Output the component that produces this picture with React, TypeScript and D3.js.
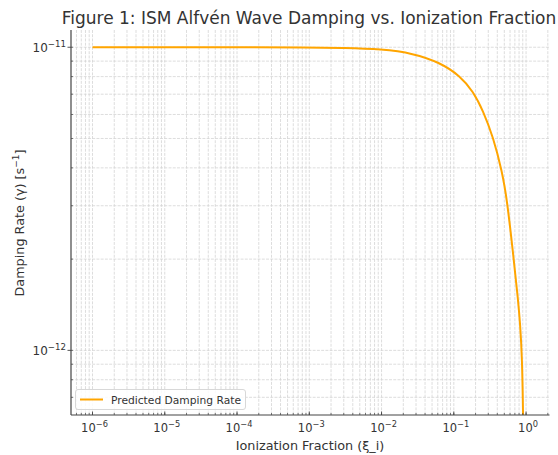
import React from 'react';
import * as d3 from 'd3';

// values
const ionizationFraction = [1e-6, 1e-5, 1e-4, 1e-3, 3e-3, 0.01, 0.0274, 0.0646, 0.122, 0.185, 0.254, 0.35, 0.466, 0.546, 0.661, 0.775, 0.826, 0.881, 0.909, 0.93];
const dampingRate = [1e-11, 1e-11, 1e-11, 9.98e-12, 9.95e-12, 9.86e-12, 9.55e-12, 8.9e-12, 8.05e-12, 7.15e-12, 6.18e-12, 5.06e-12, 3.89e-12, 3.13e-12, 2.09e-12, 1.47e-12, 1.23e-12, 9.5e-13, 6.2e-13, 4e-13];
const xDecades = [-6, -5, -4, -3, -2, -1, 0];
const yDecades = [-12, -11];

const W = 558, H = 455;
const plot = {left: 71, right: 549.5, top: 30, bottom: 415};
const font = 'DejaVu Sans, sans-serif';
const textColor = '#333';

function Pow10({x, y, exp, anchor, size}: {x: number, y: number, exp: number, anchor: string, size: number}) {
  const sup = exp < 0 ? '\u2212' + Math.abs(exp) : String(exp);
  return (
    <text x={x} y={y} textAnchor={anchor} fontSize={size} fill={textColor} fontFamily={font}>
      10<tspan dy={-size * 0.42} fontSize={size * 0.72}>{sup}</tspan>
    </text>
  );
}

export default function App() {
  const x = d3.scaleLog().domain([5.04e-7, 2.11]).range([plot.left, plot.right]);
  const y = d3.scaleLog().domain([6.12e-13, 1.14e-11]).range([plot.bottom, plot.top]);

  const minorX: number[] = [];
  for (let d = -7; d <= 0; d++) for (let k = 1; k <= 9; k++) {
    const v = k * Math.pow(10, d);
    if (v >= x.domain()[0] && v <= x.domain()[1]) minorX.push(v);
  }
  const minorY: number[] = [];
  for (let d = -13; d <= -11; d++) for (let k = 1; k <= 9; k++) {
    const v = k * Math.pow(10, d);
    if (v >= y.domain()[0] && v <= y.domain()[1]) minorY.push(v);
  }

  const pts = ionizationFraction.map((v, i) => [v, dampingRate[i]] as [number, number]);
  const line = d3.line<[number, number]>()
    .x((d) => x(d[0]))
    .y((d) => y(d[1]))
    .curve(d3.curveBasis);

  const grid = {stroke: '#d4d4d4', strokeWidth: 0.8, strokeDasharray: '2.96,1.28'};

  return (
    <svg width={W} height={H} style={{position: 'absolute', left: 0, top: 0}}>
      <rect width={W} height={H} fill="white"/>
      <defs>
        <clipPath id="plotclip">
          <rect x={plot.left} y={plot.top} width={plot.right - plot.left} height={plot.bottom - plot.top}/>
        </clipPath>
      </defs>
      {/* grid */}
      {minorX.map((v, i) => (
        <line key={'gx' + i} x1={x(v)} x2={x(v)} y1={plot.top} y2={plot.bottom} {...grid}/>
      ))}
      {minorY.map((v, i) => (
        <line key={'gy' + i} x1={plot.left} x2={plot.right} y1={y(v)} y2={y(v)} {...grid}/>
      ))}

      <path d={line(pts) || ''} fill="none" stroke="#FFA500" strokeWidth={2} clipPath="url(#plotclip)"/>

      {/* ticks */}
      {minorX.map((v, i) => (
        <line key={'tx' + i} x1={x(v)} x2={x(v)} y1={plot.bottom} y2={plot.bottom - 2} stroke="#444" strokeWidth={0.7}/>
      ))}
      {xDecades.map((d) => (
        <line key={'Tx' + d} x1={x(Math.pow(10, d))} x2={x(Math.pow(10, d))} y1={plot.bottom} y2={plot.bottom - 3.5} stroke="#444" strokeWidth={0.9}/>
      ))}
      {minorY.map((v, i) => (
        <line key={'ty' + i} x1={plot.left} x2={plot.left + 2} y1={y(v)} y2={y(v)} stroke="#444" strokeWidth={0.7}/>
      ))}
      {yDecades.map((d) => (
        <line key={'Ty' + d} x1={plot.left - 3.5} x2={plot.left} y1={y(Math.pow(10, d))} y2={y(Math.pow(10, d))} stroke="#444" strokeWidth={0.9}/>
      ))}

      {/* spines */}
      <line x1={plot.left} x2={plot.left} y1={plot.top} y2={plot.bottom} stroke="#444" strokeWidth={1.2}/>
      <line x1={plot.left} x2={plot.right} y1={plot.bottom} y2={plot.bottom} stroke="#444" strokeWidth={1.2}/>

      {/* tick labels */}
      {xDecades.map((d) => (
        <Pow10 key={'lx' + d} x={x(Math.pow(10, d)) + 2} y={432} exp={d} anchor="middle" size={11.5}/>
      ))}
      {yDecades.map((d) => (
        <Pow10 key={'ly' + d} x={plot.left - 5} y={y(Math.pow(10, d)) + 5} exp={d} anchor="end" size={12}/>
      ))}

      {/* titles */}
      <text x={309} y={24} textAnchor="middle" fontSize={17} fill={textColor} fontFamily={font}>
        Figure 1: ISM Alfvén Wave Damping vs. Ionization Fraction
      </text>
      <text x={310} y={450} textAnchor="middle" fontSize={12.8} fill={textColor} fontFamily={font}>
        Ionization Fraction (ξ_i)
      </text>
      <text transform="translate(24,223) rotate(-90)" textAnchor="middle" fontSize={12.8} fill={textColor} fontFamily={font}>
        Damping Rate (γ) [s<tspan dy={-5} fontSize={9}>{'\u22121'}</tspan><tspan dy={5}>]</tspan>
      </text>

      {/* legend */}
      <rect x={75.5} y={389.5} width={170} height={20} rx={2.5} fill="white" fillOpacity={0.85} stroke="#d8d8d8"/>
      <line x1={80} x2={103} y1={399.5} y2={399.5} stroke="#FFA500" strokeWidth={2}/>
      <text x={111} y={403.5} fontSize={10.7} fill={textColor} fontFamily={font}>Predicted Damping Rate</text>
    </svg>
  );
}
